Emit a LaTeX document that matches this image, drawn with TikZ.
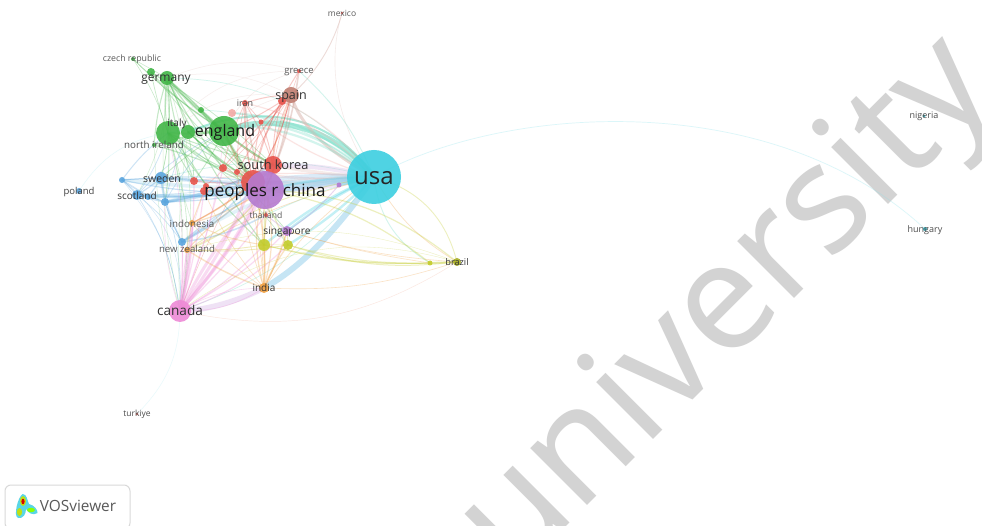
\documentclass[tikz,border=0pt]{standalone}
\usepackage{fontspec}
\setmainfont{Open Sans}
\newfontfamily\wmfont{Noto Sans}
\usetikzlibrary{backgrounds}
\pgfdeclarelayer{wmlayer}
\pgfsetlayers{wmlayer,background,main}
\definecolor{cteal}{HTML}{3CCFE0}
\definecolor{cpurple}{HTML}{B57AD0}
\definecolor{cred}{HTML}{E8544C}
\definecolor{cgreen}{HTML}{42B648}
\definecolor{cblue}{HTML}{5AA5DE}
\definecolor{cyel}{HTML}{C4CC2C}
\definecolor{corange}{HTML}{F0A040}
\definecolor{cpink}{HTML}{EE8AD6}
\definecolor{cbrown}{HTML}{C07F72}
\definecolor{cmint}{HTML}{70DCC4}
\definecolor{csky}{HTML}{A0D4EE}
\definecolor{cwm}{HTML}{D3D3D3}
\tikzset{
  vx/.style n args={2}{circle,inner sep=0pt,minimum size=2*#1 pt,fill=#2,fill opacity=.9},
  lab/.style n args={1}{inner sep=0pt,text=black!80,font=\fontsize{#1}{#1}\selectfont},
  link/.style={line cap=round,opacity=.3},
  band/.style={line cap=round,opacity=.6}
}
\newcommand\fan[4]{\foreach \t/\b in {#4}{\draw[link,draw=#2,line width=#3] (#1.center) to[bend left=\b] (\t.center);}}
\newcommand\vtx[5]{\node[vx={#4}{#5}] (#1) at (#2,#3) {};}
\begin{document}
\begin{tikzpicture}[x=1pt,y=-1pt]
\useasboundingbox (0,0) rectangle (982,526);
\begin{pgfonlayer}{wmlayer}
\fill[white] (0,0) rectangle (982,526);
\clip (0,0) rectangle (982,526);
\node[anchor=base west,rotate=45,inner sep=0pt,text=cwm,font=\wmfont\fontsize{150}{150}\selectfont] (watermark) at (513,580) {university};
\end{pgfonlayer}
% vertices
\vtx{usa}{374}{177}{27}{cteal}
\vtx{redb}{253}{182}{12}{cred}
\vtx{korea}{273}{165}{9}{cred}
\vtx{china}{265}{190}{19}{cpurple}
\vtx{england}{224}{131}{15}{cgreen}
\vtx{italy}{168}{133}{12}{cgreen}
\vtx{italyb}{188}{132}{7}{cgreen}
\vtx{germany}{167}{78}{7}{cgreen}
\vtx{gsm}{151}{72}{4}{cgreen}
\vtx{czech}{133}{59}{2}{cgreen}
\vtx{nire}{154}{145}{2}{cgreen}
\vtx{gtwo}{201}{110}{3}{cgreen}
\vtx{iran}{245}{103}{3}{cred}
\vtx{pinksm}{232}{113}{4}{cred!50}
\vtx{spain}{291}{95}{8}{cbrown}
\vtx{spr}{282}{101}{4}{cred}
\vtx{greece}{299}{71}{2}{cred}
\vtx{mexico}{342}{13}{1.3}{cred}
\vtx{rone}{261}{122}{2.5}{cred}
\vtx{rtwo}{223}{168}{4}{cred}
\vtx{rthree}{237}{172}{3}{cred}
\vtx{rfour}{194}{181}{4}{cred}
\vtx{rfive}{206}{186}{3}{cred}
\vtx{rsix}{204}{191}{4}{cred}
\vtx{pur}{339}{185}{2.5}{cpurple}
\vtx{sweden}{161}{178}{6}{cblue}
\vtx{bone}{122}{180}{3}{cblue}
\vtx{poland}{79}{191}{3}{cblue}
\vtx{scot}{137}{195}{5}{cblue}
\vtx{btwo}{148}{197}{3}{cblue}
\vtx{bthree}{165}{202}{4}{cblue}
\vtx{indo}{192}{223}{3}{corange}
\vtx{nzb}{182}{242}{4}{cblue}
\vtx{nzo}{187}{250}{3}{corange}
\vtx{thai}{266}{215}{2}{cred}
\vtx{sing}{287}{231}{5}{cpurple}
\vtx{yone}{264}{245}{6}{cyel}
\vtx{ytwo}{288}{245}{5}{cyel}
\vtx{india}{264}{288}{5}{corange}
\vtx{canada}{180}{311}{11}{cpink}
\vtx{turk}{137}{414}{1.3}{cred}
\vtx{brazil}{457}{262}{4}{cyel!85!black}
\vtx{ythree}{430}{263}{2.5}{cyel}
\vtx{nigeria}{924}{116}{1.6}{cteal!80!black}
\vtx{hungary}{925}{229}{2}{cteal!80!black}
% links
\begin{scope}[on background layer]
\draw[band,draw=cmint,line width=5.5] (usa.center) .. controls (335,128) and (275,112) .. (england.center);
\draw[band,draw=cmint,line width=2] (usa.center) .. controls (335,118) and (265,100) .. (italyb.center);
\draw[band,draw=cbrown!50,line width=3] (usa.center) .. controls (325,150) and (300,125) .. (spain.center);
\draw[band,draw=csky,line width=6] (usa.center) .. controls (340,225) and (305,265) .. (india.center);
\draw[band,draw=cpurple!35,line width=5.5] (india.center) .. controls (240,300) and (210,310) .. (canada.center);
\fan{usa}{cmint}{2.2}{italy/-24,rone/-14,pinksm/-20}
\fan{usa}{cmint}{.7}{germany/-25,gtwo/-18,sweden/-14,canada/15}
\fan{usa}{cbrown!50}{3.5}{korea/4,redb/6}
\fan{usa}{cred!50}{1.2}{iran/-16,spr/-12,rone/8,rtwo/6,rthree/6,rfour/-6,rsix/-4}
\fan{usa}{cpurple!60}{5}{china/6,korea/-6}
\fan{usa}{cblue!70}{3.5}{china/-3,sweden/5,redb/-6}
\fan{usa}{cteal}{2.4}{china/-6,pur/0,sing/-6,yone/-8,ytwo/6}
\fan{usa}{csky}{3.5}{scot/6,bthree/-6,btwo/4,nzb/-14,bone/7}
\fan{usa}{cyel}{.9}{brazil/30,nzo/-12}
\fan{usa}{cmint}{.9}{ythree/-26,greece/-12,thai/-6}
\fan{usa}{corange}{.7}{brazil/-14,india/-10,nzo/-6}
\fan{china}{cred}{5}{redb/0}
\fan{china}{cgreen}{1.2}{england/8,italy/10,italyb/6,germany/6,nire/-6,gtwo/6}
\fan{china}{cblue}{1.2}{sweden/-5,scot/5,bthree/5,nzb/-8,bone/8,btwo/4}
\fan{china}{cpink}{3}{canada/6,canada/-8}
\fan{china}{corange}{1.2}{india/14,india/-16,indo/8,nzo/-10}
\fan{china}{cyel}{1.2}{yone/0,ytwo/-6,brazil/18,ythree/14,nzo/16}
\fan{china}{cbrown}{1.5}{spain/-8,iran/6,greece/-8}
\fan{redb}{cred}{1}{spain/-10,iran/6,spr/10,rone/6,england/6,greece/10,rfour/5,rtwo/0,indo/6}
\fan{korea}{cred}{.9}{spain/10,spr/8,iran/-6,rone/-6,england/8,rsix/6}
\fan{england}{cgreen}{2}{germany/6,italy/5,italyb/0,gtwo/0,redb/-8,korea/-6}
\fan{england}{cgreen}{.8}{gsm/8,nire/-5,czech/5,sweden/-5,rfour/5}
\fan{england}{cbrown!50}{.5}{spain/16,greece/24}
\fan{germany}{cgreen}{1.1}{italy/6,italy/-8,italyb/4,gtwo/0,nire/-6,redb/10,korea/-8,rtwo/-4,rfour/-6,yone/-6}
\fan{germany}{cgreen!70}{.6}{scot/14,sweden/10,canada/14,indo/-8}
\fan{germany}{cbrown!45}{.5}{spain/18,greece/18}
\fan{czech}{cgreen}{.5}{germany/0,italy/8,england/-6}
\fan{gsm}{cgreen}{.7}{italy/-4,england/4,korea/6,redb/-4}
\fan{italy}{cgreen}{1}{redb/4,korea/-4,rfour/-4,rfive/5,bthree/6,rtwo/-6,yone/-6}
\fan{italy}{cgreen}{.6}{canada/14,ytwo/10,sweden/6,nzb/8}
\fan{italy}{cbrown!45}{.5}{spain/22,greece/26}
\fan{italyb}{cgreen}{.8}{redb/-4,korea/-6,rtwo/4,rfour/4,sing/4}
\fan{spain}{cred}{1}{spr/0,rone/6,rtwo/-4,rthree/-6,england/6,iran/-8,redb/10}
\fan{spain}{cred}{.5}{greece/0,canada/-6,rfive/4,yone/-6}
\draw[link,draw=cbrown!90,line width=.9] (spain.center) .. controls (318,72) and (335,40) .. (mexico.center);
\draw[link,draw=cbrown!50,line width=.6] (mexico.center) .. controls (325,70) and (340,130) .. (usa.center);
\fan{iran}{cred}{.7}{rone/4,rthree/-6,rtwo/-6,redb/-8}
\fan{sweden}{cblue}{1.2}{bone/0,scot/4,bthree/-5,btwo/4,redb/6,nzb/-8}
\fan{bone}{cblue}{1}{scot/4,bthree/-8,italy/8,rfour/6}
\fan{scot}{cblue}{2}{btwo/0,bthree/0}
\fan{scot}{cblue}{.7}{redb/-6,england/10,canada/12,nzb/8,italy/-8}
\fan{bthree}{cblue}{2.5}{redb/-6,korea/-8}
\fan{bthree}{cblue}{.7}{nzb/-6,italyb/4,canada/10,england/10}
\fan{poland}{cteal!45}{.5}{italy/24}
\fan{bone}{cblue}{.4}{canada/16,canada/28,nzb/18}
\fan{nzb}{cblue}{1.5}{redb/-8,korea/-12,thai/-10}
\fan{canada}{cpink}{3}{nzo/-4,indo/-6,redb/-6,korea/-8}
\fan{canada}{cpink}{1.2}{nzb/-4,rfour/-6,rsix/-4,rtwo/-4,thai/-4,sing/-8,yone/-8,ytwo/-12}
\fan{canada}{cpink}{.6}{rfive/8,bthree/10,india/14,india/-16,italy/-8,england/-8}
\fan{canada}{cpink!70!yellow}{.45}{brazil/-22}
\fan{canada}{cgreen!70}{.5}{germany/8,nire/6,italyb/5}
\fan{canada}{cteal!40}{.5}{turk/22}
\fan{india}{corange}{1.4}{yone/-4,ytwo/6,sing/-4,nzo/6,redb/-8}
\fan{india}{corange}{.6}{indo/8,rsix/8,rthree/6,brazil/-10,england/-10,spain/12}
\fan{indo}{corange}{1}{rsix/0,redb/-8,nzo/-4,yone/-8,korea/-8}
\fan{nzo}{cyel!80!orange}{.9}{yone/-5,ytwo/-6}
\fan{yone}{cyel}{1}{ytwo/0,ythree/-8,brazil/-8,thai/0}
\fan{ytwo}{cyel}{1}{ythree/-8,brazil/-12,sing/0}
\fan{ythree}{cyel}{2}{brazil/0}
\fan{sing}{corange}{.6}{brazil/-6,ythree/-4,india/6}
\fan{sing}{cpurple}{1}{thai/0,pur/-8}
\fan{brazil}{cyel}{.35}{canada/-26,nzo/-18}
\draw[link,draw=cteal!60,line width=.7] (usa.center) .. controls (500,105) and (770,85) .. (hungary.center);
\end{scope}
% labels
\node[lab={24},text=black!85] (lusa) at (374,178) {usa};
\node[lab={17},text=black!90] (lchina) at (265,192) {peoples r china};
\node[lab={16},text=black!90] (lengland) at (225,132) {england};
\node[lab={13.6}] (lcanada) at (180,310.5) {canada};
\node[lab={12}] (lgermany) at (166,79.5) {germany};
\node[lab={12.5}] (lspain) at (291,96) {spain};
\node[lab={12.8}] (lkorea) at (273,165) {south korea};
\node[lab={10.5}] (lsweden) at (162,179) {sweden};
\node[lab={10}] (lscot) at (137,196) {scotland};
\node[lab={10}] (litaly) at (177,124) {italy};
\node[lab={9.8},text=black!70] (lnire) at (154,145) {north ireland};
\node[lab={9},text=black!70] (liran) at (245,103.5) {iran};
\node[lab={9.5},text=black!65] (lgreece) at (299,72) {greece};
\node[lab={8.5},text=black!65] (lmexico) at (342,13) {mexico};
\node[lab={8.8},text=black!65] (lczech) at (132,59) {czech republic};
\node[lab={9.5},text=black!75] (lpoland) at (79,192) {poland};
\node[lab={8.6},text=black!65] (lthai) at (266,215) {thailand};
\node[lab={9.8},text=black!65] (lindo) at (192,224) {indonesia};
\node[lab={9.6},text=black!65] (lnz) at (187,249) {new zealand};
\node[lab={10.2}] (lsing) at (287,232) {singapore};
\node[lab={10}] (lindia) at (264,288) {india};
\node[lab={9.2}] (lbrazil) at (457,262) {brazil};
\node[lab={9},text=black!70] (lnigeria) at (924,116) {nigeria};
\node[lab={9},text=black!70] (lhungary) at (925,230) {hungary};
\node[lab={8.5},text=black!70] (lturk) at (137,414.5) {turkiye};
% logo
\clip (0,0) rectangle (982,526);
\node[draw=black!15,line width=1pt,rounded corners=6pt,fill=white,anchor=north west,minimum width=125pt,minimum height=44pt,inner sep=0pt] (logobox) at (4.5,484.5) {};
\node[lab={15.4},text=black!65] (logotext) at (78,505.5) {VOSviewer};
\fill[cteal!85!white] (22.5,494) .. controls (27,494) and (27,500) .. (29,504) .. controls (34,505) and (38,510) .. (37.5,513) .. controls (33,516) and (28,513) .. (26,509) .. controls (26,514) and (23,519) .. (18,518) .. controls (13,516) and (18,497) .. (22.5,494) -- cycle;
\fill[yellow!75!green] (23,501) ellipse (3 and 5);
\fill[yellow!75!green] (19.5,512) ellipse (2.6 and 4);
\fill[green!45!yellow] (31,510) ellipse (4 and 2.2);
\fill[red!85!black] (23,501.5) ellipse (1.6 and 2.8);
\end{tikzpicture}
\end{document}
